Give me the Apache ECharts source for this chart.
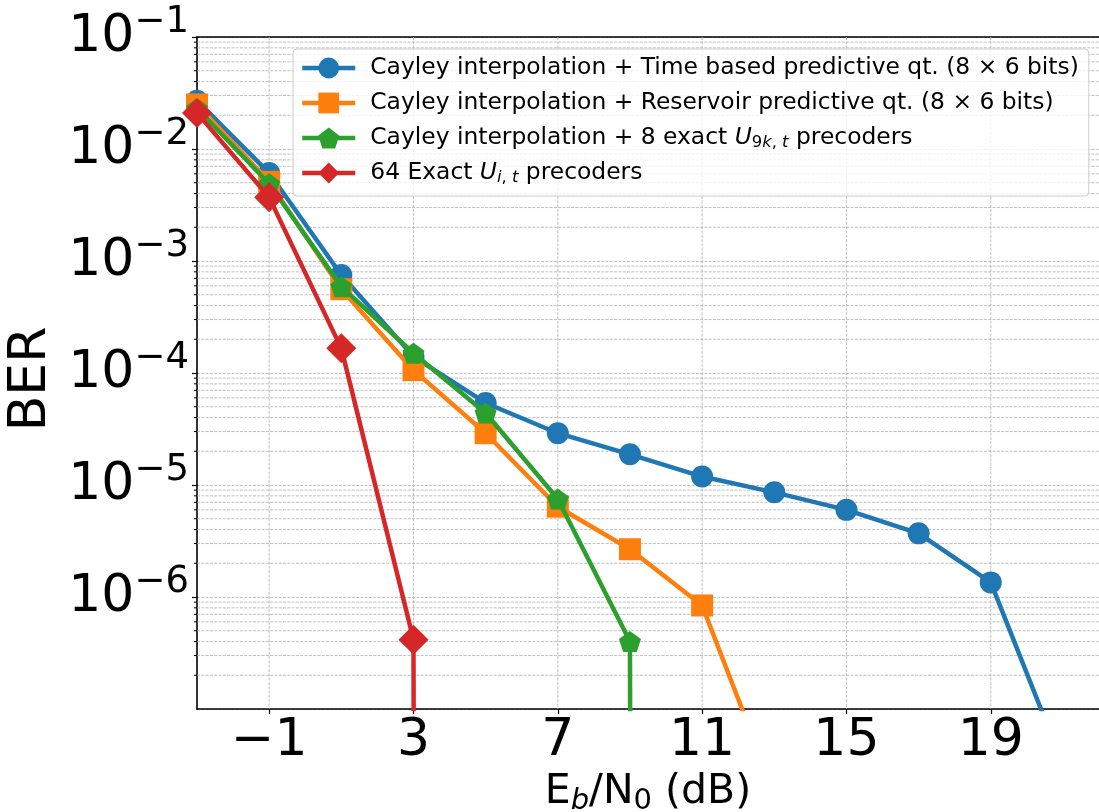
<!DOCTYPE html>
<html>
<head>
<meta charset="utf-8">
<script src="https://cdn.jsdelivr.net/npm/echarts@6/dist/echarts.min.js"></script>
<style>
  html, body { margin: 0; padding: 0; background: #fff; }
  #chart { width: 1099px; height: 812px; }
</style>
</head>
<body>
<div id="chart"></div>
<script>
// Eb/N0 sweep (dB)
const SNR = [-3, -1, 1, 3, 5, 7, 9, 11, 13, 15, 17, 19, 21];

// Bit error rates; 0 means no errors were counted at that SNR
const BER_TIME      = [2.7e-2, 6.1e-3, 7.5e-4, 1.4e-4, 5.4e-5, 2.9e-5, 1.88e-5, 1.19e-5, 8.6e-6, 6.0e-6, 3.7e-6, 1.35e-6, 3.2e-8];
const BER_RESERVOIR = [2.5e-2, 5.1e-3, 5.6e-4, 1.06e-4, 2.9e-5, 6.4e-6, 2.67e-6, 8.4e-7, 1.8e-8];
const BER_EXACT8    = [2.3e-2, 4.9e-3, 5.9e-4, 1.5e-4, 4.4e-5, 7.5e-6, 4.0e-7, 0];
const BER_EXACT64   = [2.1e-2, 3.7e-3, 1.66e-4, 4.15e-7, 0];

const SERIES_NAMES = [
  'Cayley interpolation + Time based predictive qt. (8 × 6 bits)',
  'Cayley interpolation + Reservoir predictive qt. (8 × 6 bits)',
  'Cayley interpolation + 8 exact U9k,t precoders',
  '64 Exact Ui,t precoders'
];
const LEGEND_TEXT = [
  '{t|Cayley interpolation + Time based predictive qt. (8 × 6 bits)}',
  '{t|Cayley interpolation + Reservoir predictive qt. (8 × 6 bits)}',
  '{t|Cayley interpolation + 8 exact }{i|U}{s|9}{si|k}{s|, }{si|t}{t| precoders}',
  '{t|64 Exact }{i|U}{si|i}{s|, }{si|t}{t| precoders}'
];

const X_TICKS = [-1, 3, 7, 11, 15, 19];
const X_MIN = -3, X_MAX = 22;
const Y_MIN = 1e-7, Y_MAX = 1e-1;

// zero-error points are pushed far below the axis so the curve drops off the plot
const BER_FLOOR = 1e-300;

const COLORS = ['#1f77b4', '#ff7f0e', '#2ca02c', '#d62728'];
const PENTAGON = 'path://M0,-1 L0.9511,-0.309 L0.5878,0.809 L-0.5878,0.809 L-0.9511,-0.309 Z';
const FONT = 'DejaVu Sans';
const GRID_COLOR = '#b0b0b0';
const GRID_DASH = [3, 1.3];
const LINE_WIDTH = 4.5;

function toPoints(values) {
  return values.map((v, i) => [SNR[i], v > 0 ? v : BER_FLOOR]);
}

// minor horizontal grid (2..9 x 10^k) and vertical grid at the labelled ticks
const gridData = [];
for (let k = -7; k <= -2; k++) {
  for (let m = 2; m <= 9; m++) gridData.push([X_MIN, m * Math.pow(10, k), 0]);
}
X_TICKS.forEach(x => gridData.push([x, 1e-4, 1]));

function minusSign(n) {
  return n < 0 ? '\u2212' + Math.abs(n) : String(n);
}

const chart = echarts.init(document.getElementById('chart'), null, { renderer: 'canvas' });

const lineSeries = [BER_TIME, BER_RESERVOIR, BER_EXACT8, BER_EXACT64].map((vals, i) => ({
  name: SERIES_NAMES[i],
  type: 'line',
  data: toPoints(vals),
  symbol: ['circle', 'rect', PENTAGON, 'diamond'][i],
  symbolSize: [22, 22, [22, 21], 30][i],
  showSymbol: true,
  showAllSymbol: true,
  clip: true,
  z: 2 + i,
  lineStyle: { color: COLORS[i], width: LINE_WIDTH },
  itemStyle: { color: COLORS[i], borderWidth: 0 },
  emphasis: { disabled: true },
  animation: false
}));

chart.setOption({
  animation: false,
  backgroundColor: '#fff',
  grid: { left: 197, top: 37, right: 0, bottom: 103, containLabel: false, outerBoundsMode: 'none' },
  xAxis: [{
    type: 'value',
    min: X_MIN,
    max: X_MAX,
    name: '{r|E}{si|b}{r|/N}{s|0}{r| (dB)}',
    nameLocation: 'middle',
    nameGap: 52,
    nameTextStyle: {
      fontFamily: FONT, color: '#000',
      rich: {
        r: { fontFamily: FONT, fontSize: 41, lineHeight: 48, color: '#000' },
        s: { fontFamily: FONT, fontSize: 29, lineHeight: 29, verticalAlign: 'bottom', color: '#000' },
        si: { fontFamily: FONT, fontSize: 29, lineHeight: 29, fontStyle: 'italic', verticalAlign: 'bottom', color: '#000' }
      }
    },
    axisLine: { show: true, onZero: false, lineStyle: { color: '#000', width: 1.6 } },
    axisTick: { show: true, customValues: X_TICKS, length: 5, lineStyle: { color: '#000', width: 1.2 } },
    axisLabel: {
      customValues: X_TICKS,
      formatter: v => minusSign(v),
      fontFamily: FONT, fontSize: 52, color: '#000', margin: 6
    },
    splitLine: { show: false }
  }, {
    type: 'value',
    position: 'top',
    min: X_MIN,
    max: X_MAX,
    axisLine: { show: true, onZero: false, lineStyle: { color: '#000', width: 1.6 } },
    axisTick: { show: false },
    axisLabel: { show: false },
    splitLine: { show: false }
  }],
  yAxis: {
    type: 'log',
    logBase: 10,
    min: Y_MIN,
    max: Y_MAX,
    splitNumber: 6,
    name: 'BER',
    nameLocation: 'middle',
    nameRotate: 90,
    nameGap: 132,
    nameTextStyle: { fontFamily: FONT, fontSize: 52, color: '#000', padding: [0, 12, 0, 0] },
    axisLine: { show: true, onZero: false, lineStyle: { color: '#000', width: 1.6 } },
    axisTick: { show: true, length: 5, lineStyle: { color: '#000', width: 1.2 } },
    axisLabel: {
      showMinLabel: false,
      margin: 8,
      formatter: v => '{b|10}{p|' + minusSign(Math.round(Math.log10(v))) + '}',
      rich: {
        b: { fontFamily: FONT, fontSize: 52, lineHeight: 67, color: '#000' },
        p: { fontFamily: FONT, fontSize: 37, lineHeight: 37, verticalAlign: 'top', color: '#000' }
      }
    },
    splitLine: { show: true, lineStyle: { color: GRID_COLOR, width: 0.8, type: GRID_DASH } }
  },
  legend: {
    data: SERIES_NAMES,
    orient: 'vertical',
    left: 293,
    top: 49,
    itemWidth: 53,
    itemHeight: 26,
    itemGap: 9,
    padding: [6, 10, 10, 7],
    backgroundColor: 'rgba(255,255,255,0.8)',
    borderColor: '#cccccc',
    borderWidth: 1,
    borderRadius: 4,
    selectedMode: false,
    lineStyle: { width: LINE_WIDTH },
    formatter: name => LEGEND_TEXT[SERIES_NAMES.indexOf(name)],
    textStyle: {
      fontFamily: FONT, fontSize: 23.4, color: '#000',
      height: 26, lineHeight: 26,
      padding: [0, 0, 0, 10],
      rich: {
        t: { fontFamily: FONT, fontSize: 23.4, lineHeight: 26, color: '#000' },
        i: { fontFamily: FONT, fontSize: 23.4, lineHeight: 26, fontStyle: 'italic', color: '#000' },
        s: { fontFamily: FONT, fontSize: 16.4, lineHeight: 16, verticalAlign: 'bottom', color: '#000' },
        si: { fontFamily: FONT, fontSize: 16.4, lineHeight: 16, fontStyle: 'italic', verticalAlign: 'bottom', color: '#000' }
      }
    }
  },
  series: [{
    type: 'custom',
    name: 'grid',
    silent: true,
    z: 1,
    clip: false,
    encode: { x: 0, y: 1 },
    data: gridData,
    renderItem: (params, api) => {
      const cs = params.coordSys;
      const style = { stroke: GRID_COLOR, lineWidth: 0.8, lineDash: GRID_DASH, fill: null };
      if (api.value(2) === 0) {
        const y = api.coord([X_MIN, api.value(1)])[1];
        return {
          type: 'group',
          children: [
            { type: 'line', shape: { x1: cs.x, y1: y, x2: cs.x + cs.width, y2: y }, style },
            { type: 'line', shape: { x1: cs.x - 3, y1: y, x2: cs.x, y2: y }, style: { stroke: '#000', lineWidth: 1 } }
          ]
        };
      }
      const x = api.coord([api.value(0), 1e-4])[0];
      return { type: 'line', shape: { x1: x, y1: cs.y, x2: x, y2: cs.y + cs.height }, style };
    }
  }].concat(lineSeries)
});
</script>
</body>
</html>
